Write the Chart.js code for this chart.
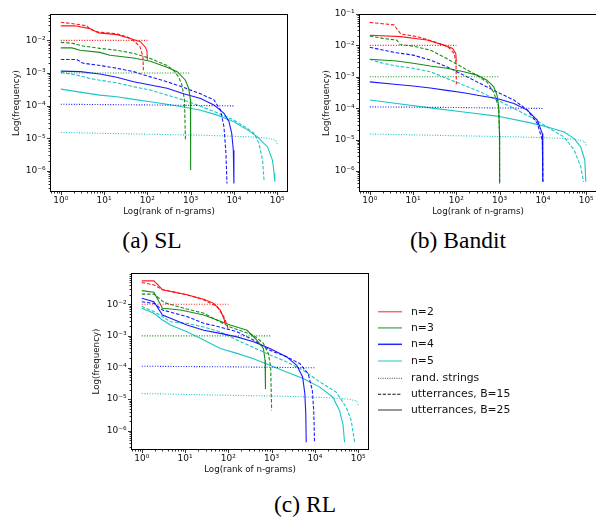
<!DOCTYPE html>
<html><head><meta charset="utf-8">
<script src="https://cdn.jsdelivr.net/npm/chart.js@4.4.0/dist/chart.umd.min.js"></script>
<style>
html,body{margin:0;padding:0;background:#fff;overflow:hidden;width:596px;height:517px;position:relative;}
.box{position:absolute;}
.cap{position:absolute;font-family:"Liberation Serif","Times New Roman",serif;font-size:23.5px;color:#000;white-space:nowrap;transform:translate(-50%,-50%);line-height:1;}
.lt{position:absolute;font-family:"DejaVu Sans",sans-serif;font-size:10.8px;color:#111;white-space:nowrap;transform:translateY(-50%);line-height:1;}
</style></head><body>
<div class="box" style="left:0;top:0;width:298px;height:225px"><canvas id="cA" width="298" height="225"></canvas></div>
<div class="box" style="left:298px;top:0;width:302px;height:225px"><canvas id="cB" width="302" height="225"></canvas></div>
<div class="box" style="left:80px;top:259px;width:300px;height:225px"><canvas id="cC" width="300" height="225"></canvas></div>
<div class="cap" style="left:152px;top:241px">(a) SL</div>
<div class="cap" style="left:458px;top:241px">(b) Bandit</div>
<div class="cap" style="left:305px;top:505px">(c) RL</div>
<svg style="position:absolute;left:376px;top:300px" width="30" height="120">
 <line x1="2" y1="11.7" x2="26" y2="11.7" stroke="rgba(255,0,0,0.6)" stroke-width="1.5"/>
 <line x1="2" y1="27.9" x2="26" y2="27.9" stroke="rgba(0,128,0,0.6)" stroke-width="1.5"/>
 <line x1="2" y1="44.3" x2="26" y2="44.3" stroke="rgba(0,0,255,0.85)" stroke-width="1.5"/>
 <line x1="2" y1="61" x2="26" y2="61" stroke="rgba(0,191,191,0.6)" stroke-width="1.5"/>
 <line x1="2" y1="78.3" x2="26" y2="78.3" stroke="#333" stroke-width="0.9" stroke-dasharray="1,1.3"/>
 <line x1="2" y1="94.3" x2="26" y2="94.3" stroke="#111" stroke-width="1.1" stroke-dasharray="3.2,1.6"/>
 <line x1="2" y1="110" x2="26" y2="110" stroke="#777" stroke-width="1.5"/>
</svg>
<div class="lt" style="left:411px;top:311.7px">n=2</div>
<div class="lt" style="left:411px;top:327.9px">n=3</div>
<div class="lt" style="left:411px;top:344.3px">n=4</div>
<div class="lt" style="left:411px;top:361px">n=5</div>
<div class="lt" style="left:411px;top:378.3px">rand. strings</div>
<div class="lt" style="left:411px;top:394.3px">utterrances, B=15</div>
<div class="lt" style="left:411px;top:410px">utterrances, B=25</div>
<script>
// ---------- tick labels ----------
const X_TICKS = [1, 10, 100, 1000, 10000, 100000];
const X_LABELS = ['10⁰', '10¹', '10²', '10³', '10⁴', '10⁵'];
const Y_TICKS = [1e-1, 1e-2, 1e-3, 1e-4, 1e-5, 1e-6];
const Y_LABELS = ['10⁻¹', '10⁻²', '10⁻³', '10⁻⁴', '10⁻⁵', '10⁻⁶'];

// ---------- random strings (dotted), same in all panels ----------
const RAND_N2 = [[1,0.01],[100,0.01]];
const RAND_N3 = [[1,0.001],[1000,0.001]];
const RAND_N4 = [[1,1.1e-4],[100,1.05e-4],[10000,9.8e-5]];
const RAND_N5 = [[1,1.5e-5],[50,1.35e-5],[2000,1.23e-5],[25000,1.1e-5],[60000,1.0e-5],[93000,8.7e-6],[100000,6.5e-6]];

// ---------- (a) SL ----------
const SL_N2_B15 = [[1,0.036],[2.1,0.032],[4,0.028],[4.7,0.022],[7.4,0.018],[19.6,0.016],[34,0.013],[52,0.0091],[68,0.0063],[79,0.0032],[81,0.0011]];
const SL_N2_B25 = [[1,0.028],[2.1,0.028],[4.7,0.023],[7.4,0.017],[20,0.015],[40,0.0115],[69,0.0091],[89,0.0063],[98,0.0048],[100,0.0025]];
const SL_N3_B15 = [[1,0.0087],[1.9,0.0081],[3.3,0.0067],[8,0.0057],[19.6,0.005],[48,0.004],[117,0.0028],[285,0.0017],[405,0.0012],[530,0.00076],[630,0.00043],[720,0.00015],[760,8.7e-6]];
const SL_N3_B25 = [[1,0.0059],[1.8,0.0059],[2.8,0.005],[8,0.0043],[13.7,0.0035],[48,0.0029],[117,0.0023],[285,0.0015],[490,0.0011],[760,0.0006],[910,0.00032],[990,0.00015],[1000,1.4e-5],[1000,1.05e-6]];
const SL_N4_B15 = [[1,0.0026],[2.3,0.0026],[3.3,0.002],[8,0.0017],[19.6,0.0014],[48,0.0011],[117,0.00076],[285,0.00054],[690,0.00036],[1700,0.00023],[3450,0.00015],[4900,7.3e-5],[5900,2.2e-5],[6550,3.4e-6],[6900,4.1e-7]];
const SL_N4_B25 = [[1,0.00114],[2.8,0.0011],[8,0.00093],[19.6,0.00074],[48,0.00054],[117,0.00043],[285,0.00034],[690,0.00023],[1700,0.000166],[3450,0.000105],[5900,5.8e-5],[7700,3.2e-5],[8900,1.4e-5],[9700,4.3e-6],[10000,4.1e-7]];
const SL_N5_B15 = [[1,0.00104],[2.3,0.00087],[4.7,0.00068],[8,0.0006],[19.6,0.0005],[48,0.00038],[117,0.0003],[285,0.00021],[690,0.000148],[1700,9.5e-5],[4150,6e-5],[10000,3.6e-5],[20500,2e-5],[29400,1.4e-5],[38000,6.9e-6],[46000,2.1e-6],[50000,4.6e-7]];
const SL_N5_B25 = [[1,0.00032],[3.3,0.00025],[8,0.00021],[19.6,0.000186],[48,0.000155],[117,0.000132],[285,0.00011],[690,9.1e-5],[1700,7.2e-5],[4150,5.1e-5],[10000,3.2e-5],[20500,1.8e-5],[35000,1.1e-5],[60000,5.4e-6],[78000,2.1e-6],[85000,8.3e-7],[88000,4.6e-7]];

// ---------- (b) Bandit ----------
const BD_N2_B15 = [[1,0.054],[3.6,0.045],[5.2,0.023],[12.6,0.019],[31,0.013],[63,0.0091],[89,0.0056],[98,0.0027],[100,0.00058]];
const BD_N2_B25 = [[1,0.021],[5.2,0.019],[21,0.0148],[52,0.0102],[82,0.008],[97,0.0055],[100,0.003]];
const BD_N3_B15 = [[1,0.020],[2.0,0.0167],[4.2,0.0147],[5,0.0107],[10,0.0095],[25,0.0071],[60,0.0038],[148,0.0019],[300,0.0011],[510,0.00068],[730,0.00032],[950,0.00011],[995,1.55e-5],[1000,4e-7]];
const BD_N3_B25 = [[1,0.0036],[4.2,0.0032],[10,0.0027],[25,0.0022],[60,0.00186],[148,0.00145],[300,0.00113],[510,0.00078],[730,0.00048],[870,0.00026],[950,0.00011],[990,1.55e-5],[1000,4e-7]];
const BD_N4_B15 = [[1,0.0087],[2,0.0071],[4.2,0.0058],[10,0.0049],[25,0.0034],[60,0.0021],[148,0.00113],[357,0.00061],[870,0.00033],[2140,0.000181],[4350,8.8e-5],[7400,3.3e-5],[9700,9.5e-6],[10000,4.5e-7]];
const BD_N4_B25 = [[1,0.00069],[4.2,0.00057],[10,0.00051],[25,0.00044],[60,0.00037],[148,0.00031],[357,0.00025],[870,0.000204],[2140,0.000141],[4350,8.7e-5],[7400,4.2e-5],[9700,1.55e-5],[9900,4.6e-6],[10000,4.5e-7]];
const BD_N5_B15 = [[1,0.0036],[2,0.0027],[4.2,0.0022],[10,0.00186],[25,0.00145],[60,0.00089],[148,0.00054],[357,0.00033],[870,0.000182],[2140,9.8e-5],[5200,5.2e-5],[12700,2.5e-5],[31000,1.2e-5],[53000,4.6e-6],[75000,1.35e-6],[87000,4.5e-7]];
const BD_N5_B25 = [[1,0.000182],[4.2,0.000141],[25,0.000102],[148,7.6e-5],[870,5.6e-5],[5200,3.4e-5],[12700,2.5e-5],[31000,1.74e-5],[53000,1.07e-5],[75000,5.8e-6],[93000,2.2e-6],[98000,4.5e-7]];

// ---------- (c) RL ----------
const RL_N2_B15 = [[1,0.049],[1.9,0.041],[3,0.029],[11,0.020],[27,0.0138],[55,0.0085],[78,0.0041],[90,0.0025],[98,0.0017]];
const RL_N2_B25 = [[1,0.055],[1.9,0.055],[3,0.029],[11,0.020],[27,0.0145],[46,0.0107],[65,0.0066],[81,0.0032],[82,0.0025]];
const RL_N3_B15 = [[1,0.021],[1.9,0.021],[3.3,0.0113],[9.4,0.0075],[27,0.0052],[110,0.0019],[380,0.00105],[645,0.00058],[840,0.00028],[950,0.000105],[1000,4.4e-6]];
const RL_N3_B25 = [[1,0.027],[1.9,0.024],[3,0.0075],[7.9,0.0066],[27,0.0046],[110,0.0022],[270,0.0015],[455,0.00074],[645,0.0004],[705,0.00017],[720,2.1e-5]];
const RL_N4_B15 = [[1,0.012],[1.9,0.0107],[3,0.0066],[11,0.0041],[27,0.0025],[65,0.0019],[158,0.00135],[380,0.00074],[910,0.00035],[2200,0.00022],[4500,0.000132],[7000,6.3e-5],[8700,1.9e-5],[9400,4.4e-6],[9800,4.3e-7]];
const RL_N4_B25 = [[1,0.0155],[1.9,0.012],[3,0.0046],[4.6,0.0036],[11,0.0022],[27,0.0015],[65,0.0012],[158,0.00093],[380,0.00065],[910,0.0004],[2200,0.00022],[3800,0.000118],[5200,5e-5],[5850,1.5e-5],[6150,3.4e-6],[6300,4.3e-7]];
const RL_N5_B15 = [[1,0.0085],[1.9,0.0059],[3,0.0041],[4.6,0.0028],[11,0.0025],[27,0.0019],[65,0.00135],[158,0.00074],[380,0.00043],[910,0.00025],[2200,0.000152],[5350,8.2e-5],[13000,3.5e-5],[31000,1.66e-5],[53000,5.5e-6],[69000,2.1e-6],[83000,4.3e-7]];
const RL_N5_B25 = [[1,0.0075],[1.9,0.0052],[3,0.0032],[4.6,0.0022],[11,0.00135],[27,0.00074],[65,0.0004],[158,0.00028],[380,0.00019],[910,0.000118],[2200,7.2e-5],[5350,4.5e-5],[13000,2.4e-5],[26000,1.15e-5],[37000,4.4e-6],[44500,1.6e-6],[48500,4.3e-7]];

// ---------- styling ----------
const COL = {n2:'rgba(255,0,0,0.9)', n3:'rgba(0,128,0,0.9)', n4:'rgba(0,0,255,0.9)', n5:'rgba(0,191,191,0.9)'};
const DOT = [1, 1.6], DASH = [3.5, 1.8], SOLID = [];
const X_MIN = Math.pow(10, -0.25), X_MAX = Math.pow(10, 5.25);
const FONT = '"DejaVu Sans", sans-serif';

const framePlugin = {
  id: 'frame',
  afterDraw(chart) {
    const {ctx, chartArea: a, scales} = chart;
    const x = scales.x, y = scales.y;
    ctx.save();
    ctx.strokeStyle = '#000';
    ctx.lineWidth = 1;
    const L = Math.round(a.left) + 0.5, T = Math.round(a.top) + 0.5;
    const R = Math.round(a.right) - 0.5, B = Math.round(a.bottom) - 0.5;
    ctx.strokeRect(L, T, R - L, B - T);
    ctx.lineWidth = 0.8;
    ctx.beginPath();
    for (let k = -1; k <= 6; k++) {
      for (let m = 1; m <= 9; m++) {
        const v = m * Math.pow(10, k);
        if (v < x.min || v > x.max) continue;
        const px = Math.round(x.getPixelForValue(v)) + 0.5;
        ctx.moveTo(px, B); ctx.lineTo(px, B + (m === 1 ? 3.5 : 2));
      }
    }
    for (let k = -8; k <= 0; k++) {
      for (let m = 1; m <= 9; m++) {
        const v = m * Math.pow(10, k);
        if (v < y.min * 0.9999 || v > y.max * 1.0001) continue;
        const py = Math.round(y.getPixelForValue(v)) + 0.5;
        ctx.moveTo(L, py); ctx.lineTo(L - (m === 1 ? 3.5 : 2), py);
      }
    }
    ctx.stroke();
    ctx.restore();
  }
};

function series(n2, n3, n4, n5) {
  const out = [];
  const add = (pts, col, dash) => out.push({pts, col, dash});
  add(RAND_N2, COL.n2, DOT); add(n2[0], COL.n2, DASH); add(n2[1], COL.n2, SOLID);
  add(RAND_N3, COL.n3, DOT); add(n3[0], COL.n3, DASH); add(n3[1], COL.n3, SOLID);
  add(RAND_N4, COL.n4, DOT); add(n4[0], COL.n4, DASH); add(n4[1], COL.n4, SOLID);
  add(RAND_N5, COL.n5, DOT); add(n5[0], COL.n5, DASH); add(n5[1], COL.n5, SOLID);
  return out;
}

function mkChart(id, list, yMin, yMax, g) {
  const datasets = list.map(s => ({
    data: s.pts.map(p => ({x: p[0], y: p[1]})),
    borderColor: s.col, borderDash: s.dash, borderWidth: 1.1,
    pointRadius: 0, fill: false, tension: 0
  }));
  return new Chart(document.getElementById(id), {
    type: 'line',
    data: {datasets},
    options: {
      responsive: false, animation: false, devicePixelRatio: 1,
      layout: {padding: g.pad},
      plugins: {legend: {display: false}, tooltip: {enabled: false}},
      scales: {
        x: {
          type: 'logarithmic', min: X_MIN, max: X_MAX, bounds: 'data',
          afterBuildTicks: s => { s.ticks = X_TICKS.filter(v => v >= s.min && v <= s.max).map(v => ({value: v})); },
          afterFit: s => { s.height = g.xh; },
          grid: {display: false, drawTicks: false}, border: {display: false},
          ticks: {autoSkip: false, maxRotation: 0, padding: 3, color: '#111',
                  font: {family: FONT, size: 9},
                  callback: v => X_LABELS[X_TICKS.indexOf(v)]},
          title: {display: true, text: 'Log(rank of n-grams)', color: '#111',
                  font: {family: FONT, size: 8.7}, padding: {top: 0, bottom: g.xtp}}
        },
        y: {
          type: 'logarithmic', min: yMin, max: yMax, bounds: 'data',
          afterBuildTicks: s => { s.ticks = Y_TICKS.filter(v => v >= s.min * 0.9999 && v <= s.max * 1.0001).map(v => ({value: v})); },
          afterFit: s => { s.width = g.yw; },
          grid: {display: false, drawTicks: false}, border: {display: false},
          ticks: {autoSkip: false, padding: 4.5, color: '#111',
                  font: {family: FONT, size: 9},
                  callback: v => Y_LABELS[Y_TICKS.findIndex(t => Math.abs(t / v - 1) < 1e-6)]},
          title: {display: true, text: 'Log(frequency)', color: '#111',
                  font: {family: FONT, size: 8.7}, padding: {top: g.ytp, bottom: 0}}
        }
      }
    },
    plugins: [framePlugin]
  });
}

mkChart('cA', series([SL_N2_B15, SL_N2_B25], [SL_N3_B15, SL_N3_B25], [SL_N4_B15, SL_N4_B25], [SL_N5_B15, SL_N5_B25]),
  Math.pow(10, -6.65), Math.pow(10, -1.19),
  {pad: {left: 0, top: 14, right: 10, bottom: 5}, xh: 28, yw: 50, xtp: 2.8, ytp: 11.3});
mkChart('cB', series([BD_N2_B15, BD_N2_B25], [BD_N3_B15, BD_N3_B25], [BD_N4_B15, BD_N4_B25], [BD_N5_B15, BD_N5_B25]),
  Math.pow(10, -6.67), 0.1,
  {pad: {left: 0, top: 14, right: 3, bottom: 5}, xh: 28, yw: 61, xtp: 2.8, ytp: 23.3});
mkChart('cC', series([RL_N2_B15, RL_N2_B25], [RL_N3_B15, RL_N3_B25], [RL_N4_B15, RL_N4_B25], [RL_N5_B15, RL_N5_B25]),
  Math.pow(10, -6.61), Math.pow(10, -1.01),
  {pad: {left: 0, top: 14, right: 11, bottom: 6}, xh: 28, yw: 51, xtp: 2.8, ytp: 11.8});
</script>
</body></html>
